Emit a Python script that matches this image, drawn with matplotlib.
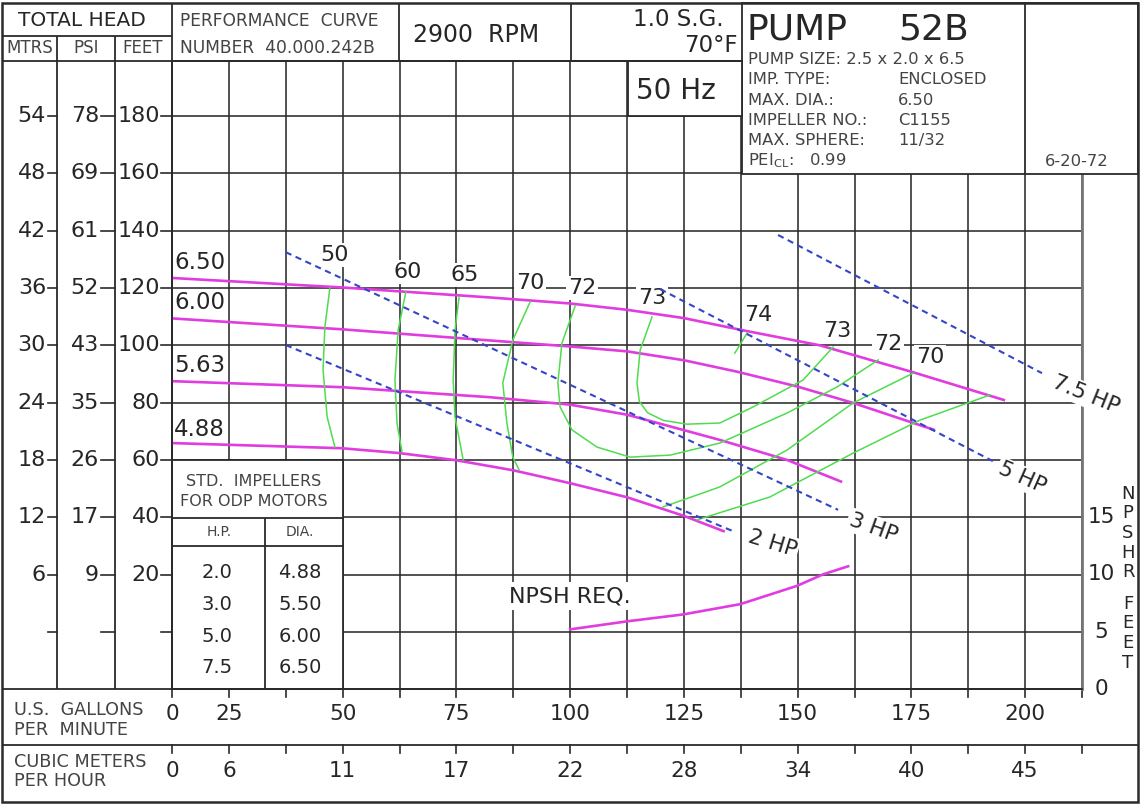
import numpy as np
import matplotlib
matplotlib.use("Agg")
import matplotlib.pyplot as plt
from matplotlib.patches import Rectangle

## curve values: flow in US GPM, head in feet
gpm_650 = [12.5, 49.8, 82.4, 100, 112.5, 125, 137.8, 154.9, 175.4, 195.6]
ft_650 = [123.5, 120.2, 116.7, 114.6, 112.4, 109.5, 105.3, 100.0, 90.6, 80.8]
gpm_600 = [12.5, 49.8, 82.4, 100, 112.5, 125, 136.7, 150, 162.2, 180.2]
ft_600 = [109.4, 105.6, 101.7, 99.6, 97.9, 94.8, 90.8, 85.6, 79.9, 70.4]
gpm_563 = [12.5, 49.8, 82.4, 100, 112.5, 132.9, 147.7, 159.8]
ft_563 = [87.5, 85.4, 81.9, 79.3, 75.8, 67.0, 60.0, 52.3]
gpm_488 = [12.5, 49.8, 62.5, 75, 87.5, 100, 112.5, 125, 134]
ft_488 = [65.9, 64.1, 62.4, 59.9, 56.4, 51.9, 47.0, 40.5, 35.0]
dia_labels = ["6.50", "6.00", "5.63", "4.88"]
dia_label_ft = [129, 114.8, 92.8, 70.5]

# efficiency contours
eff50_gpm = [47.2, 46.1, 45.7, 46.6, 48.3]
eff50_ft = [120.0, 106.4, 91.4, 75.0, 64.5]
eff60_gpm = [63.9, 62.2, 61.5, 61.95, 63.05]
eff60_ft = [118.6, 105.3, 87.9, 72.9, 62.8]
eff65_gpm = [75.6, 74.7, 74.3, 74.7, 76.5]
eff65_ft = [116.8, 105.3, 87.9, 75.0, 60.0]
eff70_gpm = [91.2, 87.4, 85.2, 86.1, 87.4, 88.8]
eff70_ft = [115.1, 101.8, 86.9, 72.9, 61.0, 56.5]
eff72_gpm = [101.1, 98.2, 97.3, 97.8, 100.4, 105.9, 113.2, 122.0, 132.9, 147.7, 158.7, 167.7]
eff72_ft = [113.7, 100.8, 86.9, 78.5, 70.5, 64.5, 61.0, 61.7, 65.9, 76.4, 85.5, 94.9]
eff73_gpm = [118.0, 115.4, 114.7, 115.2, 117.0, 120.5, 125.7, 132.9, 140.2, 151.2, 157.8]
eff73_ft = [109.9, 98.4, 86.9, 80.5, 76.5, 73.8, 72.5, 72.9, 78.5, 87.9, 99.4]
eff74_gpm = [136.2, 138.9]
eff74_ft = [97.3, 104.3]
eff70r_gpm = [120.4, 132.9, 147.7, 162.2, 175.4]
eff70r_ft = [43.6, 50.6, 63.5, 79.9, 90.3]
eff65r_gpm = [127.9, 143.9, 162.2, 176.9, 192.3]
eff65r_ft = [39.1, 47.1, 62.4, 73.9, 82.7]
eff_labels = ["50", "60", "65", "70", "72", "73", "74", "73", "72", "70"]
eff_label_gpm = [48.3, 64.4, 76.9, 91.2, 102.6, 118.0, 141.3, 158.7, 169.9, 179.1]
eff_label_ft = [131.5, 125.6, 124.5, 121.7, 120.0, 116.5, 110.6, 105.0, 100.5, 95.9]

# horsepower lines
hp_labels = ["2 HP", "3 HP", "5 HP", "7.5 HP"]
hp_gpm = [[37.5, 136.2], [37.5, 158.9], [119.8, 192.9], [145.7, 203.7]]
hp_ft = [[100.1, 34.9], [132.5, 42.6], [119.6, 59.6], [138.5, 90.3]]
hp_label_gpm = [144.4, 166.6, 199.3, 213.4]
hp_label_ft = [31.0, 36.4, 53.7, 82.7]
hp_label_rot = [-17, -20, -24, -22]

# NPSH required (feet, right scale)
npsh_gpm = [100, 112.5, 124.8, 137.4, 149.9, 155.6, 161.1]
npsh_ft = [5.2, 5.9, 6.5, 7.4, 9.0, 10.0, 10.7]

# scales
gpm_ticks = [12.5, 25, 50, 75, 100, 125, 150, 175, 200]
gpm_text = ["0", "25", "50", "75", "100", "125", "150", "175", "200"]
cmh_text = ["0", "6", "11", "17", "22", "28", "34", "40", "45"]
feet = [180, 160, 140, 120, 100, 80, 60, 40, 20]
psi = [78, 69, 61, 52, 43, 35, 26, 17, 9]
mtrs = [54, 48, 42, 36, 30, 24, 18, 12, 6]
npsh_ticks = [0, 5, 10, 15]

std_hp = ["2.0", "3.0", "5.0", "7.5"]
std_dia = ["4.88", "5.50", "6.00", "6.50"]

MAG = "#e03ce0"
GRN = "#4fdc4f"
BLU = "#3346c8"
INK = "#262626"
GREY = "#444444"
GRID = "#2a2a2a"

plt.rcParams['font.family'] = 'DejaVu Sans'
fig = plt.figure(figsize=(11.4, 8.06), dpi=100)
W, H = 1140.0, 806.0
# plot region in pixels: x 172..1082, y 61..689
ax = fig.add_axes([172 / W, (H - 689) / H, 910 / W, 628 / H])
ax.set_xlim(12.5, 212.5)
ax.set_ylim(-19.9, 199.2)
ax.set_xticks(np.arange(12.5, 212.6, 12.5))
ax.set_yticks(np.arange(0, 181, 20))
ax.tick_params(length=0, labelbottom=False, labelleft=False)
ax.grid(True, color=GRID, lw=1.15)
ax.set_axisbelow(True)
for s in ax.spines.values():
    s.set_color(GRID)
    s.set_linewidth(1.3)
ax.spines['right'].set_color("#777777")
ax.spines['right'].set_linewidth(2)

lbox = dict(facecolor='white', edgecolor='none', pad=1.5)

# head curves
for g, f in [(gpm_650, ft_650), (gpm_600, ft_600), (gpm_563, ft_563), (gpm_488, ft_488)]:
    ax.plot(g, f, color=MAG, lw=1.9, zorder=3, solid_capstyle='butt', solid_joinstyle='round')
for lab, fy_ in zip(dia_labels, dia_label_ft):
    ax.text(13.0, fy_, lab, fontsize=16.5, color=INK, ha='left', va='center', zorder=2.6)

# efficiency
for g, f in [(eff50_gpm, eff50_ft), (eff60_gpm, eff60_ft), (eff65_gpm, eff65_ft),
             (eff70_gpm, eff70_ft), (eff72_gpm, eff72_ft), (eff73_gpm, eff73_ft),
             (eff74_gpm, eff74_ft), (eff70r_gpm, eff70r_ft), (eff65r_gpm, eff65r_ft)]:
    ax.plot(g, f, color=GRN, lw=1.1, zorder=3, solid_joinstyle='round')
for lab, gx, fy_ in zip(eff_labels, eff_label_gpm, eff_label_ft):
    ax.text(gx, fy_, lab, fontsize=16, color=INK, ha='center', va='center', zorder=2.6, bbox=lbox)

# horsepower
for g, f in zip(hp_gpm, hp_ft):
    ax.plot(g, f, color=BLU, lw=1.5, ls=(0, (3, 2.2)), zorder=3)
for lab, gx, fy_, r in zip(hp_labels, hp_label_gpm, hp_label_ft, hp_label_rot):
    ax.text(gx, fy_, lab, fontsize=15.5, color=INK, ha='center', va='center', rotation=r,
            rotation_mode='anchor', zorder=2.6, bbox=lbox, clip_on=False)

ax.text(100, 12.5, "NPSH REQ.", fontsize=16, color=INK, ha='center', va='center',
        zorder=2.6, bbox=dict(facecolor='white', edgecolor='none', pad=3))

# NPSH scale on the right
ax2 = ax.twinx()
ax2.set_ylim(0, 628 / 11.467)
ax2.set_yticks([])
for s in ax2.spines.values():
    s.set_visible(False)
ax2.plot(npsh_gpm, npsh_ft, color=MAG, lw=1.9, zorder=3, solid_joinstyle='round')
for v in npsh_ticks:
    ax2.text((1101 - 172) / 910, v, str(v), transform=ax2.get_yaxis_transform(),
             fontsize=15.5, color=INK, ha='center', va='center')

# left scales
yt = ax.get_yaxis_transform()
def fx(px):
    return (px - 172) / 910.0
for m, p, f in zip(mtrs, psi, feet):
    ax.text(fx(46), f, str(m), transform=yt, fontsize=16, color=INK, ha='right', va='center')
    ax.text(fx(99), f, str(p), transform=yt, fontsize=16, color=INK, ha='right', va='center')
    ax.text(fx(160), f, str(f), transform=yt, fontsize=16, color=INK, ha='right', va='center')
for f in feet + [0]:
    for x0, x1 in [(48, 57), (101, 115), (161, 172)]:
        ax.plot([fx(x0), fx(x1)], [f, f], transform=yt, color=GRID, lw=1.2, clip_on=False)

# bottom scales
xt = ax.get_xaxis_transform()
def fy(py):
    return (689 - py) / 628.0
for gx, t1, t2 in zip(gpm_ticks, gpm_text, cmh_text):
    ax.text(gx, fy(714), t1, transform=xt, fontsize=15.5, color=INK, ha='center', va='center')
    ax.text(gx, fy(771), t2, transform=xt, fontsize=15.5, color=INK, ha='center', va='center')
for gx in np.arange(12.5, 212.6, 12.5):
    ax.plot([gx, gx], [fy(689), fy(697)], transform=xt, color=GRID, lw=1.2, clip_on=False)
    ax.plot([gx, gx], [fy(745), fy(753)], transform=xt, color=GRID, lw=1.2, clip_on=False)

# overlay for the sheet frame and title blocks (pixel coordinates)
ov = fig.add_axes([0, 0, 1, 1], zorder=5)
ov.set_xlim(0, W)
ov.set_ylim(H, 0)
ov.axis('off')

def hl(y, x0, x1, lw=1.3):
    ov.plot([x0, x1], [y, y], color=GRID, lw=lw, solid_capstyle='butt')
def vl(x, y0, y1, lw=1.3):
    ov.plot([x, x], [y0, y1], color=GRID, lw=lw, solid_capstyle='butt')
def box(x0, y0, x1, y1):
    ov.add_patch(Rectangle((x0, y0), x1 - x0, y1 - y0, facecolor='white',
                           edgecolor=GRID, lw=1.3))

box(742, 3, 1138, 174)
box(628, 61, 742, 116)
box(172, 460, 343, 689)
ov.add_patch(Rectangle((2, 3), 1136, 799, facecolor='none', edgecolor=GRID, lw=1.8))
hl(36, 2, 172)
hl(61, 2, 742)
hl(689, 2, 1082)
hl(745, 2, 1138)
vl(57, 36, 689)
vl(115, 36, 689)
vl(172, 3, 689)
vl(399, 3, 61)
vl(571, 3, 61)
vl(1025, 3, 174)
hl(518, 172, 343)
hl(546, 172, 343)
vl(265, 518, 689)

T = dict(color=INK, va='center')
ov.text(82, 21, "TOTAL HEAD", fontsize=14.5, ha='center', **T)
ov.text(30, 48, "MTRS", fontsize=12, ha='center', color=GREY, va='center')
ov.text(86, 48, "PSI", fontsize=12, ha='center', color=GREY, va='center')
ov.text(143, 48, "FEET", fontsize=12, ha='center', color=GREY, va='center')
ov.text(180, 21, "PERFORMANCE  CURVE", fontsize=12.3, ha='left', color=GREY, va='center')
ov.text(180, 48, "NUMBER  40.000.242B", fontsize=12.3, ha='left', color=GREY, va='center')
ov.text(476, 35, "2900  RPM", fontsize=17, ha='center', **T)
ov.text(724, 20, "1.0 S.G.", fontsize=16.5, ha='right', **T)
ov.text(738, 45, "70°F", fontsize=16.5, ha='right', **T)
ov.text(676, 91, "50 Hz", fontsize=20, ha='center', **T)
ov.text(746, 30, "PUMP", fontsize=26, ha='left', **T)
ov.text(898, 30, "52B", fontsize=26, ha='left', **T)
small = dict(fontsize=11.8, color=GREY, va='center')
ov.text(748, 60, "PUMP SIZE: 2.5 x 2.0 x 6.5", ha='left', **small)
rows = [("IMP. TYPE:", "ENCLOSED"), ("MAX. DIA.:", "6.50"), ("IMPELLER NO.:", "C1155"),
        ("MAX. SPHERE:", "11/32")]
for i, (a, b) in enumerate(rows):
    ov.text(748, 80 + i * 20.3, a, ha='left', **small)
    ov.text(898, 80 + i * 20.3, b, ha='left', **small)
ov.text(748, 161, "PEI$_{\\mathregular{CL}}$:   0.99", ha='left', **small)
ov.text(1077, 161, "6-20-72", ha='center', **small)

ov.text(254, 481, "STD.  IMPELLERS", fontsize=11.5, ha='center', color=GREY, va='center')
ov.text(254, 502, "FOR ODP MOTORS", fontsize=11.5, ha='center', color=GREY, va='center')
ov.text(219, 532, "H.P.", fontsize=10, ha='center', color=GREY, va='center')
ov.text(300, 532, "DIA.", fontsize=10, ha='center', color=GREY, va='center')
for i, (a, b) in enumerate(zip(std_hp, std_dia)):
    ov.text(217, 573 + i * 31.5, a, fontsize=14, ha='center', **T)
    ov.text(300, 573 + i * 31.5, b, fontsize=14, ha='center', **T)

ov.text(14, 710, "U.S.  GALLONS", fontsize=12.7, ha='left', color=GREY, va='center')
ov.text(14, 730, "PER  MINUTE", fontsize=12.7, ha='left', color=GREY, va='center')
ov.text(14, 762, "CUBIC METERS", fontsize=12.7, ha='left', color=GREY, va='center')
ov.text(14, 781, "PER HOUR", fontsize=12.7, ha='left', color=GREY, va='center')

for i, ch in enumerate("NPSHR"):
    ov.text(1128, 494 + i * 19.5, ch, fontsize=13, ha='center', **T)
for i, ch in enumerate("FEET"):
    ov.text(1128, 604 + i * 19.5, ch, fontsize=13, ha='center', **T)

fig.savefig("out.png", dpi=100, facecolor='white')
